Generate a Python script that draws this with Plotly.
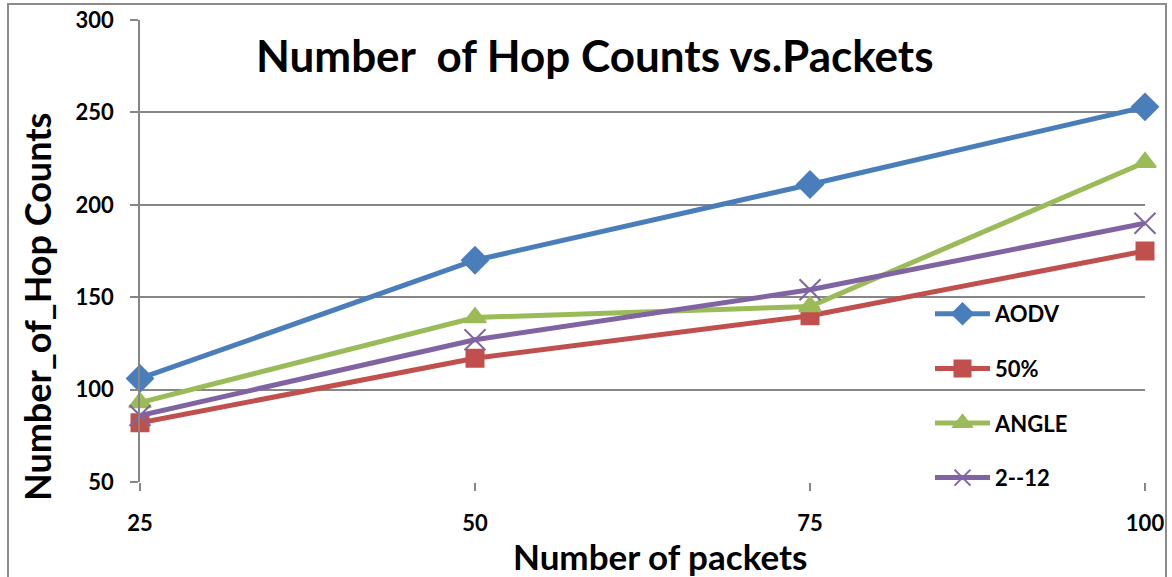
import plotly.graph_objects as go

packets = [25, 50, 75, 100]
aodv = [106, 170, 211, 253]
p50 = [82, 117, 140, 175]
angle = [93, 139, 145, 223]
r2_12 = [86, 127, 154, 190]

series = [
    ("AODV", aodv, "#4A7EBB", "diamond", 20),
    ("50%", p50, "#C0504D", "square", 17),
    ("ANGLE", angle, "#9BBB59", "triangle-up", 19),
    ("2--12", r2_12, "#8064A2", "x-thin-open", 21),
]

FONT = "Lato"
L, R, T, B = 140, 1145, 20, 482
W, H = 1172, 577


def px(x):
    return (x - L) / (R - L)


def py(y):
    return (B - y) / (B - T)


fig = go.Figure()
for i, (name, vals, col, sym, sz) in enumerate(series):
    fig.add_trace(go.Scatter(
        x=packets, y=vals, name=name, mode="lines+markers",
        line=dict(color=col, width=5),
        marker=dict(symbol=sym, size=sz, color=col,
                    line=dict(color=col, width=2)),
        cliponaxis=False, legendgroup=f"g{i}",
    ))

fig.update_layout(
    width=W, height=H,
    margin=dict(l=L, r=W - R, t=T, b=H - B, pad=0, autoexpand=False),
    paper_bgcolor="white", plot_bgcolor="white",
    font=dict(family=FONT, color="black"),
    showlegend=True,
    legend=dict(
        x=px(930), y=py(293),
        xanchor="left", yanchor="top",
        bgcolor="rgba(0,0,0,0)",
        font=dict(family=FONT, size=22, color="black", weight="bold"),
        itemwidth=55, tracegroupgap=23, traceorder="grouped",
    ),
    annotations=[
        dict(text="<b>Number \u00a0of Hop Counts vs.Packets</b>",
             xref="paper", yref="paper", x=px(595), y=py(55),
             xanchor="center", yanchor="middle", showarrow=False,
             font=dict(family=FONT, size=44, color="black")),
        dict(text="<b>Number of packets</b>",
             xref="paper", yref="paper", x=px(660), y=py(556),
             xanchor="center", yanchor="middle", showarrow=False,
             font=dict(family=FONT, size=35, color="black")),
        dict(text="<b>Number_of_Hop Counts</b>", textangle=-90,
             xref="paper", yref="paper", x=px(37), y=py(307),
             xanchor="center", yanchor="middle", showarrow=False,
             font=dict(family=FONT, size=36, color="black")),
    ],
    shapes=[dict(
        type="rect", xref="paper", yref="paper",
        x0=px(8), x1=px(1166), y0=py(600), y1=py(4),
        line=dict(color="#8C8C8C", width=2), fillcolor="rgba(0,0,0,0)",
        layer="below",
    )],
)

fig.update_xaxes(
    range=[25, 100], tickvals=packets, ticktext=[str(p) for p in packets],
    showgrid=False, zeroline=False, automargin=False,
    showline=False,
    ticks="outside", ticklen=8, tickcolor="#868686", tickwidth=1.5,
    tickfont=dict(family=FONT, size=22, color="black", weight="bold"),
    ticklabelstandoff=14,
)
fig.update_yaxes(
    range=[50, 300], tickvals=[50, 100, 150, 200, 250, 300],
    showgrid=True, gridcolor="#868686", gridwidth=1.5,
    zeroline=False, automargin=False,
    showline=True, linecolor="#868686", linewidth=1.5,
    ticks="outside", ticklen=8, tickcolor="#868686", tickwidth=1.5,
    tickfont=dict(family=FONT, size=22, color="black", weight="bold"),
    ticklabelstandoff=12,
)

fig.write_html("out.html",
               config={"displayModeBar": False},
               post_script="document.body.style.margin='0';"
                           "document.body.style.overflow='hidden';")
